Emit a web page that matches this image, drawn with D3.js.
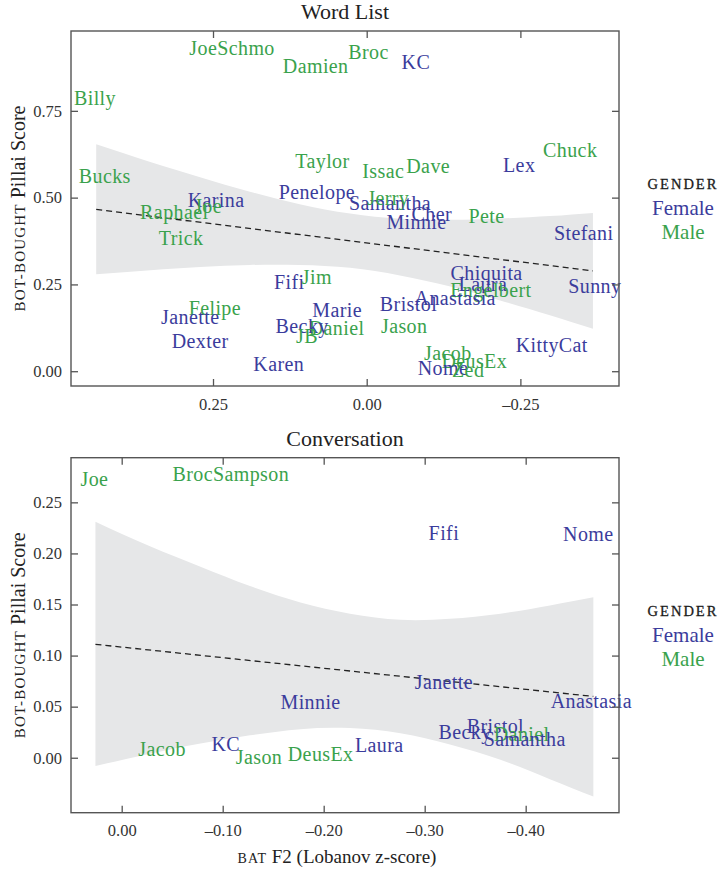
<!DOCTYPE html>
<html>
<head>
<meta charset="utf-8">
<script src="https://cdn.jsdelivr.net/npm/d3@7"></script>
<style>
  body { margin: 0; background: #fff; }
  text { font-family: "Liberation Serif", "DejaVu Serif", serif; }
</style>
</head>
<body>
<svg id="chart" width="722" height="871"></svg>
<script>
// colours for the gender legend
const FEMALE = "#3b3c9c";
const MALE = "#3aa24c";

// ---- Word List panel ----
const wordNames = ["JoeSchmo","Damien","Broc","KC","Billy","Taylor","Bucks","Issac","Dave","Lex","Chuck",
  "Penelope","Karina","Joe","Raphael","Trick","Samantha","Jerry","Cher","Minnie","Pete","Stefani",
  "Chiquita","Laura","Engelbert","Anastasia","Sunny","Bristol","Jason","KittyCat","Jacob","DeusEx",
  "Nome","Zed","Marie","Daniel","Becky","JB","Fifi","Jim","Felipe","Janette","Dexter","Karen"];
const wordGender = ["M","M","M","F","M","M","M","M","M","F","M",
  "F","F","M","M","M","F","M","F","F","M","F",
  "F","F","M","F","F","F","M","F","M","M",
  "F","M","F","M","F","M","F","M","M","F","F","F"];
const wordF2 = [0.219,0.083,-0.003,-0.080,0.442,0.072,0.426,-0.027,-0.100,-0.248,-0.331,
  0.081,0.245,0.258,0.313,0.302,-0.038,-0.035,-0.106,-0.081,-0.195,-0.353,
  -0.195,-0.189,-0.202,-0.144,-0.371,-0.068,-0.061,-0.301,-0.132,-0.175,
  -0.124,-0.165,0.048,0.049,0.105,0.097,0.126,0.081,0.247,0.287,0.271,0.143];
const wordPillai = [0.931,0.878,0.918,0.889,0.785,0.604,0.561,0.575,0.590,0.592,0.636,
  0.516,0.493,0.476,0.457,0.382,0.484,0.499,0.451,0.428,0.446,0.398,
  0.281,0.250,0.234,0.211,0.245,0.192,0.129,0.074,0.052,0.029,
  0.009,0.001,0.175,0.124,0.130,0.101,0.257,0.271,0.182,0.156,0.087,0.019];
// confidence band and fitted line
const wordBandF2 = [0.440,0.352,0.271,0.190,0.109,0.027,-0.054,-0.136,-0.217,-0.298,-0.368];
const wordBandHi = [0.654,0.603,0.559,0.517,0.481,0.454,0.439,0.436,0.440,0.447,0.456];
const wordBandLo = [0.279,0.291,0.300,0.306,0.306,0.298,0.276,0.244,0.204,0.161,0.122];
const wordFitF2 = [0.440,-0.368];
const wordFitPillai = [0.466,0.289];
const wordXTicks = [0.25,0,-0.25];
const wordYTicks = [0,0.25,0.5,0.75];

// ---- Conversation panel ----
const convNames = ["Joe","BrocSampson","Fifi","Nome","Minnie","Jacob","KC","Jason","DeusEx","Laura",
  "Janette","Anastasia","Becky","Bristol","Daniel","Samantha"];
const convGender = ["M","M","F","F","F","M","F","M","M","F","F","F","F","F","M","F"];
const convF2 = [0.027,-0.108,-0.319,-0.462,-0.187,-0.040,-0.103,-0.136,-0.197,-0.255,
  -0.319,-0.465,-0.340,-0.370,-0.396,-0.399];
const convPillai = [0.272,0.277,0.220,0.219,0.054,0.008,0.013,0.000,0.003,0.012,
  0.074,0.055,0.025,0.031,0.023,0.018];
const convBandF2 = [0.026,-0.028,-0.078,-0.127,-0.177,-0.226,-0.276,-0.325,-0.375,-0.424,-0.467];
const convBandHi = [0.231,0.207,0.187,0.168,0.152,0.141,0.135,0.136,0.141,0.149,0.157];
const convBandLo = [-0.008,0.004,0.014,0.022,0.028,0.029,0.024,0.013,-0.002,-0.021,-0.038];
const convFitF2 = [0.026,-0.467];
const convFitPillai = [0.111,0.060];
const convXTicks = [0,-0.1,-0.2,-0.3,-0.4];
const convYTicks = [0,0.05,0.1,0.15,0.2,0.25];

const legendLabels = ["Female","Male"];
const legendColors = [FEMALE, MALE];

const svg = d3.select("#chart");
const LEFT = 71, RIGHT = 619;
const fmt = v => (v < 0 ? "\u2013" : "") + Math.abs(v).toFixed(2);

function drawPanel(p) {
  const g = svg.append("g");
  const x = d3.scaleLinear().domain(p.xDomain).range([LEFT, RIGHT]);
  const y = d3.scaleLinear().domain(p.yDomain).range([p.bottom, p.top]);

  // band
  const band = p.bandX.map((v, i) => ({x: v, lo: p.bandLo[i], hi: p.bandHi[i]}));
  g.append("path")
    .datum(band)
    .attr("d", d3.area().x(d => x(d.x)).y0(d => y(d.lo)).y1(d => y(d.hi)).curve(d3.curveNatural))
    .attr("fill", "#e6e7e8");

  // fitted line
  g.append("path")
    .datum(p.fitX.map((v, i) => [v, p.fitY[i]]))
    .attr("d", d3.line().x(d => x(d[0])).y(d => y(d[1])))
    .attr("fill", "none")
    .attr("stroke", "#222")
    .attr("stroke-width", 1.3)
    .attr("stroke-dasharray", "6,4");

  // name labels
  g.selectAll(".name")
    .data(p.names.map((n, i) => ({n, x: p.xs[i], y: p.ys[i], g: p.gender[i]})))
    .enter().append("text")
    .attr("class", "name")
    .attr("x", d => x(d.x))
    .attr("y", d => y(d.y))
    .attr("dy", "0.33em")
    .attr("text-anchor", "middle")
    .attr("font-size", 20)
    .attr("letter-spacing", 0.4)
    .attr("fill", d => d.g === "F" ? FEMALE : MALE)
    .text(d => d.n);

  // axes, ticks pointing inward on all four sides
  const axes = [
    g.append("g").attr("transform", `translate(0,${p.bottom})`)
      .call(d3.axisBottom(x).tickValues(p.xTicks).tickSize(-7).tickPadding(12).tickFormat(fmt)),
    g.append("g").attr("transform", `translate(0,${p.top})`)
      .call(d3.axisTop(x).tickValues(p.xTicks).tickSize(-7).tickFormat("")),
    g.append("g").attr("transform", `translate(${LEFT},0)`)
      .call(d3.axisLeft(y).tickValues(p.yTicks).tickSize(-7).tickPadding(9).tickFormat(fmt)),
    g.append("g").attr("transform", `translate(${RIGHT},0)`)
      .call(d3.axisRight(y).tickValues(p.yTicks).tickSize(-7).tickFormat(""))
  ];
  axes.forEach(a => {
    a.select(".domain").remove();
    a.selectAll("line").attr("stroke", "#555").attr("stroke-width", 1.3);
    a.selectAll("text").attr("font-size", 16.5).attr("fill", "#333")
      .attr("font-family", "'Liberation Serif', serif");
  });

  g.append("rect")
    .attr("x", LEFT).attr("y", p.top)
    .attr("width", RIGHT - LEFT).attr("height", p.bottom - p.top)
    .attr("fill", "none").attr("stroke", "#555").attr("stroke-width", 1.4);

  // title
  g.append("text")
    .attr("x", (LEFT + RIGHT) / 2).attr("y", p.top - 12)
    .attr("text-anchor", "middle").attr("font-size", 22).attr("fill", "#222")
    .text(p.title);

  // y axis title
  const yt = g.append("text")
    .attr("transform", `translate(25,${(p.top + p.bottom) / 2}) rotate(-90)`)
    .attr("text-anchor", "middle").attr("fill", "#222");
  yt.append("tspan").attr("font-size", 15).attr("letter-spacing", 1.2).text("BOT-BOUGHT");
  yt.append("tspan").attr("font-size", 20).text(" Pillai Score");

  // legend
  const lg = g.append("g").attr("transform", `translate(683,${p.top})`);
  lg.append("text").attr("y", 158).attr("text-anchor", "middle")
    .attr("font-size", 14.5).attr("letter-spacing", 2).attr("fill", "#1a1a1a")
    .attr("stroke", "#1a1a1a").attr("stroke-width", 0.3).text("GENDER");
  lg.selectAll(".leg").data(legendLabels).enter().append("text")
    .attr("class", "leg")
    .attr("y", (d, i) => 184 + i * 24)
    .attr("text-anchor", "middle").attr("font-size", 21)
    .attr("fill", (d, i) => legendColors[i]).text(d => d);
}

drawPanel({
  title: "Word List", top: 31, bottom: 386,
  xDomain: [0.481, -0.4104], yDomain: [-0.0426, 0.980],
  names: wordNames, gender: wordGender, xs: wordF2, ys: wordPillai,
  bandX: wordBandF2, bandLo: wordBandLo, bandHi: wordBandHi,
  fitX: wordFitF2, fitY: wordFitPillai,
  xTicks: wordXTicks, yTicks: wordYTicks
});

drawPanel({
  title: "Conversation", top: 457.7, bottom: 812.7,
  xDomain: [0.0502, -0.4924], yDomain: [-0.0538, 0.2937],
  names: convNames, gender: convGender, xs: convF2, ys: convPillai,
  bandX: convBandF2, bandLo: convBandLo, bandHi: convBandHi,
  fitX: convFitF2, fitY: convFitPillai,
  xTicks: convXTicks, yTicks: convYTicks
});

// x axis title
const xt = svg.append("text")
  .attr("x", 337).attr("y", 863)
  .attr("text-anchor", "middle").attr("fill", "#222");
xt.append("tspan").attr("font-size", 14).attr("letter-spacing", 1).text("BAT");
xt.append("tspan").attr("font-size", 19).text(" F2  (Lobanov z-score)");
</script>
</body>
</html>
